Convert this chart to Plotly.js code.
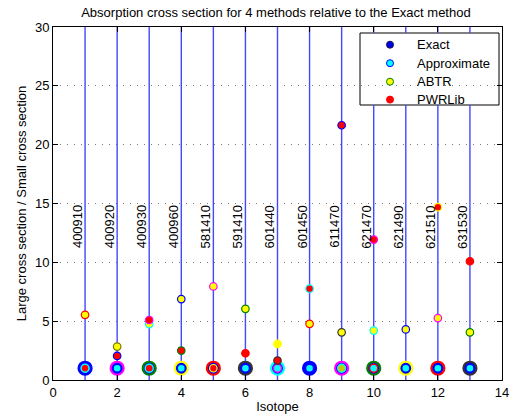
<!DOCTYPE html>
<html>
<head>
<meta charset="utf-8">
<script src="https://cdn.plot.ly/plotly-3.0.1.min.js"></script>
<style>
  html, body { margin: 0; padding: 0; background: #fff; }
  #chart { width: 511px; height: 419px; }
</style>
</head>
<body>
<div id="chart"></div>
<script>
// ---- data ----
var isotopes = [1, 2, 3, 4, 5, 6, 7, 8, 9, 10, 11, 12, 13];
var isotopeLabels = ['400910', '400920', '400930', '400960', '581410', '591410', '601440',
                     '601450', '611470', '621470', '621490', '621510', '631530'];
var exact  = [1, 1, 1, 1, 1, 1, 1, 1, 1, 1, 1, 1, 1];
var approx = [1, 1, 1, 1, 1, 1, 1, 1, 1, 1, 1, 1, 1];
var abtr   = [5.54, 2.84, 4.75, 6.88, 7.95, 6.05, 3.07, 4.77, 4.05, 4.2, 4.3, 5.26, 4.05];
var pwrlib = [1, 2.05, 5.1, 2.5, 1, 2.27, 1.65, 7.76, 21.65, 11.93, null, 14.69, 10.09];
var seriesNames = ['Exact', 'Approximate', 'ABTR', 'PWRLib'];
var xTicks = [0, 2, 4, 6, 8, 10, 12, 14];
var yTicks = [0, 5, 10, 15, 20, 25, 30];

// ---- styles ----
var B = 'rgb(0,0,255)', G = 'rgb(0,128,0)', R = 'rgb(255,0,0)', C = 'rgb(0,255,255)',
    M = 'rgb(255,0,255)', Y = 'rgb(255,255,0)', K = 'rgb(50,50,50)';
var exactEdge  = [B, M, G, Y, R, K, C, B, M, G, Y, R, K];
var approxFill = [C, C, R, C, C, C, C, C, 'rgb(200,200,0)', C, C, C, C];
var approxEdge = [C, B, C, B, B, B, M, B, C, R, B, B, B];
var abtrEdge   = [R, 'rgb(120,120,0)', C, B, M, G, Y, R, K, C, B, M, G];
var pwrEdge    = [C, B, M, G, Y, R, K, C, B, M, G, Y, R];
var legendFill = ['rgb(0,0,230)', C, Y, R];
var legendEdge = ['rgb(20,20,80)', B, G, R];
var FONT = 'Liberation Sans, Arial, Helvetica, sans-serif';

// plot area in page pixels, used to place the hand-drawn legend box
var PLOT = { l: 53, r: 502, t: 27, b: 380, xmax: 14, ymax: 30 };
function px2x(px) { return (px - PLOT.l) / (PLOT.r - PLOT.l) * PLOT.xmax; }
function py2y(py) { return (PLOT.b - py) / (PLOT.b - PLOT.t) * PLOT.ymax; }
var LEG = { x0: 360, x1: 499, y0: 33, y1: 105, mx: 390, tx: 415, ys: [44.7, 63.2, 81.7, 99.6] };

// stems spanning the full y range at each isotope, interrupted by the legend box
var yLo = yTicks[0], yHi = yTicks[yTicks.length - 1];
var stemX = [], stemY = [];
isotopes.forEach(function (v) {
  if (v > px2x(LEG.x0) && v < px2x(LEG.x1)) {
    stemX.push(v, v, null, v, v, null);
    stemY.push(yLo, py2y(LEG.y1), null, py2y(LEG.y0), yHi, null);
  } else {
    stemX.push(v, v, null);
    stemY.push(yLo, yHi, null);
  }
});

var traces = [
  { type: 'scatter', mode: 'lines', x: stemX, y: stemY, showlegend: false, hoverinfo: 'skip',
    connectgaps: false, line: { color: 'rgb(70,70,255)', width: 1.4 } },
  { type: 'scatter', mode: 'markers', x: isotopes, y: exact, showlegend: false, hoverinfo: 'skip',
    marker: { symbol: 'circle', size: 13, color: B, line: { color: exactEdge, width: 2.2 } } },
  { type: 'scatter', mode: 'markers', x: isotopes, y: approx, showlegend: false, hoverinfo: 'skip',
    marker: { symbol: 'circle', size: 8, color: approxFill, line: { color: approxEdge, width: 1.4 } } },
  { type: 'scatter', mode: 'markers', x: isotopes, y: abtr, showlegend: false, hoverinfo: 'skip',
    marker: { symbol: 'circle', size: 7.5, color: Y, line: { color: abtrEdge, width: 1.2 } } },
  { type: 'scatter', mode: 'markers', x: isotopes, y: pwrlib, showlegend: false, hoverinfo: 'skip',
    marker: { symbol: 'circle', size: 7.5, color: R, line: { color: pwrEdge, width: 1.2 } } },
  // legend symbols
  { type: 'scatter', mode: 'markers', showlegend: false, hoverinfo: 'skip',
    x: seriesNames.map(function () { return px2x(LEG.mx); }), y: LEG.ys.map(py2y),
    marker: { symbol: 'circle', size: 7, color: legendFill, line: { color: legendEdge, width: 1 } } }
];

var shapes = [{ type: 'rect', xref: 'x', yref: 'y',
                x0: px2x(LEG.x0), x1: px2x(LEG.x1), y0: py2y(LEG.y1), y1: py2y(LEG.y0),
                layer: 'below', fillcolor: 'rgb(255,255,255)', line: { color: '#000', width: 1 } }];

var annotations = isotopes.map(function (v, i) {
  return { x: v, y: 13, xref: 'x', yref: 'y', text: isotopeLabels[i], showarrow: false,
           textangle: -90, xshift: -8, font: { family: FONT, size: 13, color: '#000' } };
});
seriesNames.forEach(function (n, i) {
  annotations.push({ x: px2x(LEG.tx), y: py2y(LEG.ys[i]), xref: 'x', yref: 'y', text: n, showarrow: false,
                     xanchor: 'left', yanchor: 'middle', font: { family: FONT, size: 13, color: '#000' } });
});

var layout = {
  width: 511, height: 419,
  margin: { l: 53, r: 9, t: 27, b: 39, pad: 0 },
  paper_bgcolor: '#fff', plot_bgcolor: '#fff',
  font: { family: FONT, size: 13, color: '#000' },
  title: { text: 'Absorption cross section for 4 methods relative to the Exact method',
           font: { family: FONT, size: 13, color: '#000' },
           x: 0.54, xanchor: 'center', y: 1 - 12 / 419, yanchor: 'middle', yref: 'container' },
  xaxis: {
    range: [0, 14], tickvals: xTicks, ticktext: xTicks.map(String),
    ticks: 'inside', ticklen: 5, tickcolor: '#000', showline: true, linecolor: '#000', linewidth: 1,
    mirror: 'ticks', showgrid: false, zeroline: false,
    title: { text: 'Isotope', font: { family: FONT, size: 13 }, standoff: 3 },
    tickfont: { family: FONT, size: 13 }, automargin: false
  },
  yaxis: {
    range: [0, 30], tickvals: yTicks, ticktext: yTicks.map(String),
    ticks: 'inside', ticklen: 5, tickcolor: '#000', showline: true, linecolor: '#000', linewidth: 1,
    mirror: 'ticks', showgrid: true, gridcolor: 'rgb(120,120,120)', gridwidth: 1, griddash: '1px,6px',
    zeroline: false,
    title: { text: 'Large cross section / Small cross section', font: { family: FONT, size: 13 }, standoff: 5 },
    tickfont: { family: FONT, size: 13 }, automargin: false
  },
  showlegend: false,
  shapes: shapes,
  annotations: annotations
};

Plotly.newPlot('chart', traces, layout, { staticPlot: true, displayModeBar: false });
</script>
</body>
</html>
